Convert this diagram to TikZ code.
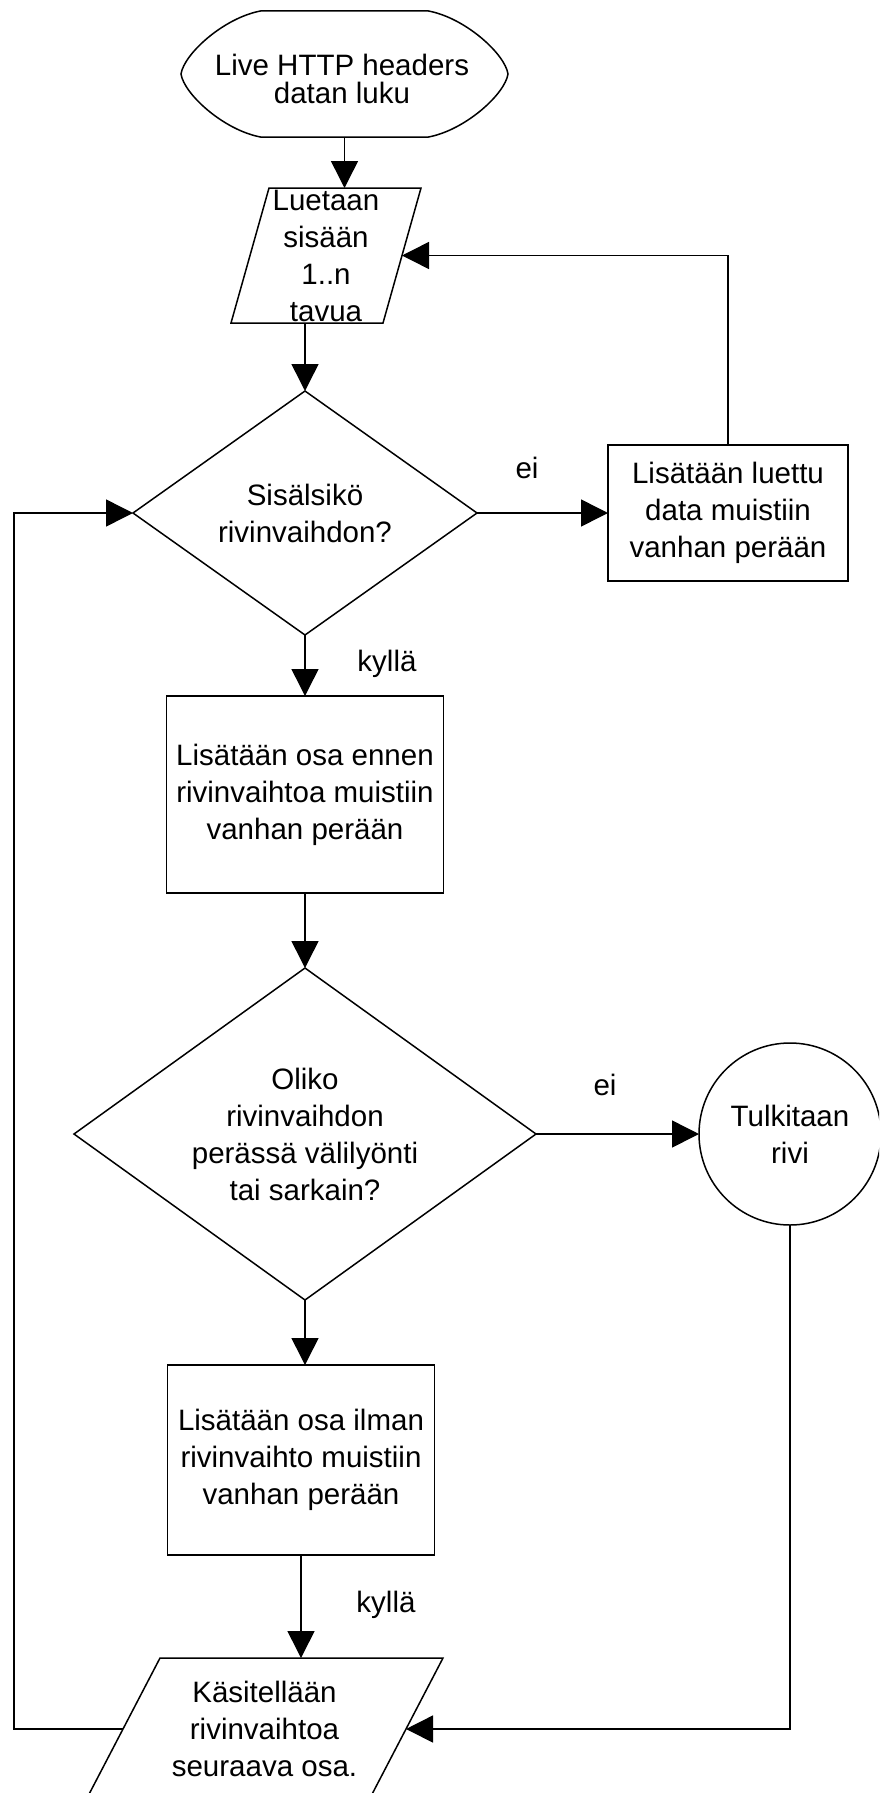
\documentclass[tikz,border=0pt]{standalone}
\usepackage{fontspec}
\setmainfont{Liberation Sans}
\usetikzlibrary{arrows.meta,shapes.geometric,calc}

\begin{document}
\begin{tikzpicture}[x=1pt,y=-1pt,
  line width=1.5pt,
  every node/.style={inner sep=0pt, outer sep=0pt, align=center,
    font=\fontsize{29.5}{37}\selectfont},
  proc/.style={draw, rectangle},
  decision/.style={draw, diamond},
  iobox/.style={rectangle},
  connector/.style={draw, circle, minimum size=182pt},
  arr/.style={-{Triangle[length=27pt,width=27pt]}},
  lbl/.style={}
]
% page and clipping
\useasboundingbox (0,0) rectangle (879,1793);
\fill[white] (0,0) rectangle (879,1793);
\clip (0,0) rectangle (879,1793);

% start terminal
\node (start) at (344.5,74) [minimum width=327pt, minimum height=126pt] {};
\node (starttext) at (342,78.5) [font=\fontsize{29.5}{28}\selectfont]
  {Live HTTP headers\\datan luku};
\draw ([xshift=-84pt]start.north) -- ([xshift=84pt]start.north)
  .. controls +(37,7) and +(-3,-20) .. (start.east)
  .. controls +(-3,20) and +(37,-7) .. ([xshift=84pt]start.south)
  -- ([xshift=-84pt]start.south)
  .. controls +(-37,-7) and +(3,20) .. (start.west)
  .. controls +(3,-20) and +(-37,7) .. cycle;

% input: read bytes
\node[iobox] (in1) at (326,255.5) [minimum width=190pt, minimum height=135pt]
  {Luetaan\\sisään\\1..n\\tavua};
\draw ($(in1.north west)+(38,0)$) -- (in1.north east)
  -- ($(in1.south east)+(-38,0)$) -- (in1.south west) -- cycle;
\coordinate (in1r) at ($(in1.east)+(-19,0)$);

% first decision
\node[decision, aspect=1.41, minimum width=344pt, minimum height=244pt] (d1) at (305,513)
  {Sisälsikö\\rivinvaihdon?};

% append read data
\node[proc, minimum width=240pt, minimum height=136pt] (b1) at (728,513)
  {Lisätään luettu\\data muistiin\\vanhan perään};

% append part before newline
\node[proc, minimum width=277pt, minimum height=197pt] (b2) at (305,794.5)
  {Lisätään osa ennen\\rivinvaihtoa muistiin\\vanhan perään};

% second decision
\node[decision, aspect=1.4, minimum width=462pt, minimum height=332pt] (d2) at (305,1134)
  {Oliko\\rivinvaihdon\\perässä välilyönti\\tai sarkain?};

% interpret line
\node[connector] (c) at (790,1134) {Tulkitaan\\rivi};

% append part without newline
\node[proc, minimum width=267pt, minimum height=190pt] (b3) at (301,1460)
  {Lisätään osa ilman\\rivinvaihto muistiin\\vanhan perään};

% handle following part
\node[iobox] (in2) at (264.5,1729) [minimum width=357pt, minimum height=142pt]
  {Käsitellään\\rivinvaihtoa\\seuraava osa.};
\draw ($(in2.north west)+(74,0)$) -- (in2.north east)
  -- ($(in2.south east)+(-74,0)$) -- (in2.south west) -- cycle;
\coordinate (in2r) at ($(in2.east)+(-37,0)$);
\coordinate (in2l) at ($(in2.west)+(37,0)$);
\coordinate (lx) at (14,0);

% connectors
\draw[arr] (start.south) -- (start.south |- in1.north);
\draw[arr] (d1.north |- in1.south) -- (d1.north);
\draw[arr] (d1.east) -- (b1.west);
\draw[arr] (b1.north) |- (in1r);
\draw[arr] (d1.south) -- (b2.north);
\draw[arr] (b2.south) -- (b2.south |- d2.north);
\draw[arr] (d2.east) -- (c.west);
\draw[arr] (d2.south) -- (d2.south |- b3.north);
\draw[arr] (b3.south) -- (b3.south |- in2.north);
\draw[arr] (c.south) |- (in2r);
\draw[arr] (in2l) -- (in2l -| lx) |- (d1.west);

% branch labels
\node[lbl] (ei1) at (527,468) {ei};
\node[lbl] (kylla1) at (387,664) {kyllä};
\node[lbl] (ei2) at (605,1085) {ei};
\node[lbl] (kylla2) at (386,1605) {kyllä};
\end{tikzpicture}
\end{document}
